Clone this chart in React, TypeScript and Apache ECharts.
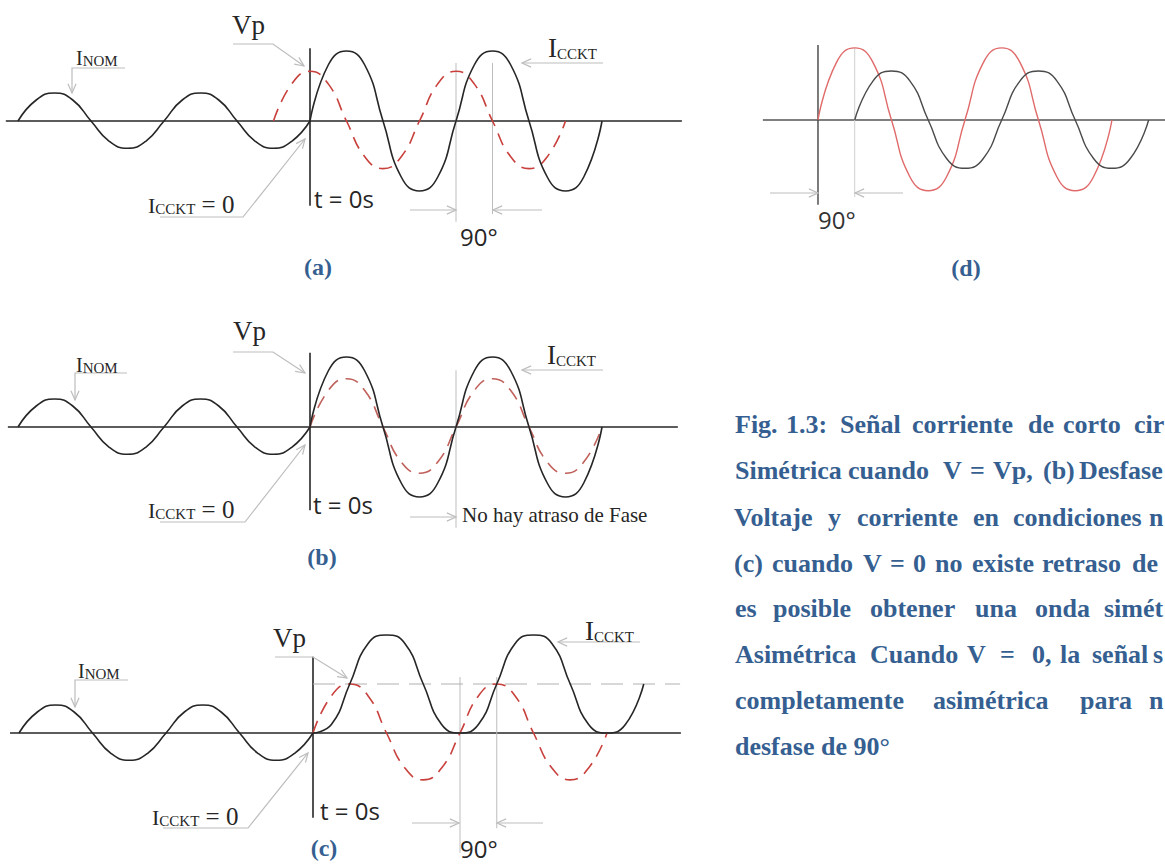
import React, { useEffect, useRef } from "react";
import * as echarts from "echarts";

// ---------- phase samples (degrees, t = 0 s at 0°), every 45° ----------
const phInom = [-720, -675, -630, -585, -540, -495, -450, -405, -360, -315, -270, -225, -180, -135, -90, -45, 0];
const phFwd = [0, 45, 90, 135, 180, 225, 270, 315, 360, 405, 450, 495, 540, 585, 630, 675, 720];
const phLead = [-90, -45, 0, 45, 90, 135, 180, 225, 270, 315, 360, 405, 450, 495, 540, 585, 630];
const phAsym = [0, 45, 90, 135, 180, 225, 270, 315, 360, 405, 450, 495, 540, 585, 630, 675, 720, 765, 810];
const phLag = [90, 135, 180, 225, 270, 315, 360, 405, 450, 495, 540, 585, 630, 675, 720, 765, 810];

// ---------- amplitudes (1 = peak of the symmetric short-circuit current) ----------
// (a) symmetric when V = Vp
const inomA = [0, 0.3, 0.4, 0.3, 0, -0.29, -0.39, -0.29, 0, 0.3, 0.4, 0.3, 0, -0.29, -0.39, -0.29, 0];
const icktA = [0, 0.8, 1, 0.8, 0, -0.8, -1, -0.8, 0, 0.8, 1, 0.8, 0, -0.8, -1, -0.8, 0];
const vA = [0, 0.53, 0.71, 0.53, 0, -0.51, -0.68, -0.51, 0, 0.53, 0.71, 0.53, 0, -0.51, -0.68, -0.51, 0];
// (b) no phase lag
const inomB = [0, 0.3, 0.4, 0.3, 0, -0.29, -0.39, -0.29, 0, 0.3, 0.4, 0.3, 0, -0.29, -0.39, -0.29, 0];
const icktB = [0, 0.8, 1, 0.8, 0, -0.8, -1, -0.8, 0, 0.8, 1, 0.8, 0, -0.8, -1, -0.8, 0];
const vB = [0, 0.52, 0.69, 0.52, 0, -0.5, -0.66, -0.5, 0, 0.52, 0.69, 0.52, 0, -0.5, -0.66, -0.5, 0];
// (c) asymmetric when V = 0
const inomC = [0, 0.3, 0.4, 0.3, 0, -0.29, -0.39, -0.29, 0, 0.3, 0.4, 0.3, 0, -0.29, -0.39, -0.29, 0];
const icktC = [0, 0.12, 0.7, 1.28, 1.4, 1.28, 0.7, 0.12, 0, 0.12, 0.7, 1.28, 1.4, 1.28, 0.7, 0.12, 0, 0.12, 0.7];
const vC = [0, 0.53, 0.7, 0.53, 0, -0.5, -0.67, -0.5, 0, 0.53, 0.7, 0.53, 0, -0.5, -0.67, -0.5, 0];
// (d) voltage and current 90° apart
const vD = [0, 0.82, 1.03, 0.82, 0, -0.81, -1.01, -0.81, 0, 0.82, 1.03, 0.82, 0, -0.81, -1.01, -0.81, 0];
const iD = [0, 0.56, 0.7, 0.56, 0, -0.55, -0.69, -0.55, 0, 0.56, 0.7, 0.56, 0, -0.55, -0.69, -0.55, 0];

// ---------- reference lines (degrees, amplitude) ----------
const baseA = [[-750, 0], [917, 0]];
const tZeroA = [[0, 1.04], [0, -1.21]];
const mark1A = [[360, 0.83], [360, -1.44]];
const mark2A = [[450, 0.83], [450, -1.33]];
const baseB = [[-745, 0], [907, 0]];
const tZeroB = [[0, 1.06], [0, -1.19]];
const mark1B = [[360, 0.81], [360, -1.44]];
const baseC = [[-742, 0], [901, 0]];
const tZeroC = [[0, 1.09], [0, -1.21]];
const mark1C = [[360, 0.8], [360, -1.71]];
const mark2C = [[450, 0.8], [450, -1.36]];
const vpLevelC = [[0, 0.7], [899, 0.7]];
const baseD = [[-135, 0], [850, 0]];
const tZeroD = [[0, 1.07], [0, -1.21]];
const markD = [[90, 1.03], [90, -1.1]];

// ---------- caption (as visible, the page cuts it on the right) ----------
const captionWords = [
  ["Fig.", "1.3:", "Señal", "corriente", "de", "corto", "cir"],
  ["Simétrica", "cuando", "V", "=", "Vp,", "(b)", "Desfase"],
  ["Voltaje", "y", "corriente", "en", "condiciones", "n"],
  ["(c)", "cuando", "V", "=", "0", "no", "existe", "retraso", "de"],
  ["es", "posible", "obtener", "una", "onda", "simét"],
  ["Asimétrica", "Cuando", "V", "=", "0,", "la", "señal", "s"],
  ["completamente", "asimétrica", "para", "n"],
  ["desfase de 90°"],
];

// ---------- layout (pixels) ----------
const UNIT = 70;
const layout = [
  { t0: 310, k: 146 / 360, axisY: 121, xmin: -750, xmax: 917 },
  { t0: 310, k: 146 / 360, axisY: 427, xmin: -745, xmax: 907 },
  { t0: 313, k: 147 / 360, axisY: 733, xmin: -742, xmax: 901 },
  { t0: 818, k: 147 / 360, axisY: 120, xmin: -135, xmax: 850 },
];
const captionX = [
  [735, 786, 840, 912, 1028, 1063, 1134],
  [735, 848, 943, 970, 993, 1043, 1079],
  [734, 828, 857, 973, 1013, 1149],
  [734, 772, 863, 890, 913, 935, 972, 1042, 1132],
  [735, 773, 870, 975, 1035, 1104],
  [735, 870, 967, 1000, 1032, 1060, 1092, 1153],
  [735, 933, 1080, 1149],
  [735],
];
const captionBase = [433, 479, 526, 572, 617, 663, 709, 755];

const SERIF = '"Liberation Serif", "Times New Roman", serif';
const SANS = '"Open Sans", "Liberation Sans", sans-serif';
const INK = "#262626";
const RED = "#c8403c";
const GRAY = "#bdbdbd";
const BLUE = "#365f91";

const zip = (xs: number[], ys: number[]) => xs.map((x, i) => [x, ys[i]]);

function line(gi: number, data: number[][], color: string, width: number, opts: any = {}) {
  return {
    type: "line",
    xAxisIndex: gi,
    yAxisIndex: gi,
    data,
    symbol: "none",
    showSymbol: false,
    smooth: opts.smooth ? 0.5 : false,
    clip: false,
    silent: true,
    z: opts.z ?? 2,
    lineStyle: { color, width, type: opts.dash || "solid", cap: "butt", join: "round" },
  };
}

function txt(x: number, y: number, text: string, size: number, family: string, o: any = {}) {
  return {
    type: "text",
    x,
    y,
    silent: true,
    z: 10,
    style: {
      text,
      fontSize: size,
      fontFamily: family,
      fontWeight: o.weight || "normal",
      fill: o.fill || INK,
      align: o.align || "left",
      textAlign: o.align || "left",
      verticalAlign: "middle",
      textVerticalAlign: "middle",
    },
  };
}

function caps(x: number, y: number, parts: [string, number][]) {
  const rich: any = {};
  let text = "";
  parts.forEach(([t, s], i) => {
    rich["p" + i] = { fontSize: s, fontFamily: SERIF, fill: INK, verticalAlign: "bottom", lineHeight: s };
    text += `{p${i}|${t}}`;
  });
  return {
    type: "text",
    x,
    y,
    silent: true,
    z: 10,
    style: { text, rich, fill: INK, fontFamily: SERIF, verticalAlign: "middle", textVerticalAlign: "middle" },
  };
}

function arrow(pts: number[][], color = GRAY) {
  const n = pts.length;
  const [x2, y2] = pts[n - 1];
  const [x1, y1] = pts[n - 2];
  const ang = Math.atan2(y2 - y1, x2 - x1);
  const L = 10;
  const a = 0.42;
  const h1 = [x2 - L * Math.cos(ang - a), y2 - L * Math.sin(ang - a)];
  const h2 = [x2 - L * Math.cos(ang + a), y2 - L * Math.sin(ang + a)];
  return [
    { type: "polyline", silent: true, z: 9, shape: { points: pts }, style: { stroke: color, lineWidth: 1.2, fill: null } },
    { type: "polyline", silent: true, z: 9, shape: { points: [h1, [x2, y2], h2] }, style: { stroke: color, lineWidth: 1.2, fill: null } },
  ];
}

const INOM: [string, number][] = [["I", 20], ["NOM", 15]];
const ICC0: [string, number][] = [["I", 22], ["CCKT", 15], [" = 0", 25]];
const ICC: [string, number][] = [["I", 27], ["CCKT", 15]];
const label = (x: number, y: number, t: string) => txt(x, y, t, 24, SERIF, { fill: BLUE, weight: "bold", align: "center" });

export default function App() {
  const ref = useRef<HTMLDivElement>(null);
  useEffect(() => {
    if (!ref.current) return;
    const chart = echarts.init(ref.current, undefined, { renderer: "svg" });
    const DASH = [13, 8];
    const series = [
      // (a)
      line(0, baseA, INK, 1.6),
      line(0, tZeroA, INK, 1.6),
      line(0, mark1A, GRAY, 1),
      line(0, mark2A, GRAY, 1),
      line(0, zip(phLead, vA), RED, 1.6, { smooth: true, dash: DASH }),
      line(0, zip(phInom, inomA), INK, 1.6, { smooth: true, z: 3 }),
      line(0, zip(phFwd, icktA), INK, 1.6, { smooth: true, z: 3 }),
      // (b)
      line(1, baseB, INK, 1.6),
      line(1, tZeroB, INK, 1.6),
      line(1, mark1B, GRAY, 1),
      line(1, zip(phFwd, vB), "#c0605a", 1.6, { smooth: true, dash: DASH }),
      line(1, zip(phInom, inomB), INK, 1.6, { smooth: true, z: 3 }),
      line(1, zip(phFwd, icktB), INK, 1.6, { smooth: true, z: 3 }),
      // (c)
      line(2, baseC, INK, 1.6),
      line(2, tZeroC, INK, 1.6),
      line(2, mark1C, GRAY, 1),
      line(2, mark2C, GRAY, 1),
      line(2, vpLevelC, "#b0b0b0", 1, { dash: [22, 10] }),
      line(2, zip(phFwd, vC), RED, 1.6, { smooth: true, dash: DASH }),
      line(2, zip(phInom, inomC), INK, 1.6, { smooth: true, z: 3 }),
      line(2, zip(phAsym, icktC), INK, 1.6, { smooth: true, z: 3 }),
      // (d)
      line(3, baseD, "#555555", 1.4),
      line(3, tZeroD, "#444444", 1.4),
      line(3, markD, "#cfcfcf", 1),
      line(3, zip(phFwd, vD), "#e06a6a", 1.4, { smooth: true, z: 3 }),
      line(3, zip(phLag, iD), "#4a4a4a", 1.4, { smooth: true, z: 3 }),
    ];

    const graphics: any[] = [
      // (a)
      txt(232, 25, "Vp", 27, SERIF),
      ...arrow([[233, 44], [273, 44], [304, 66]]),
      caps(76, 58, INOM),
      ...arrow([[125, 68], [72, 68], [72, 93]]),
      caps(148, 204, ICC0),
      ...arrow([[160, 217], [243, 217], [305, 139]]),
      txt(314, 198, "t = 0s", 24, SANS),
      caps(548, 48, ICC),
      ...arrow([[603, 63], [522, 63]]),
      ...arrow([[410, 210], [456, 210]]),
      ...arrow([[542, 210], [493, 210]]),
      txt(460, 236, "90°", 24, SANS),
      label(318, 267, "(a)"),
      // (b)
      txt(233, 331, "Vp", 27, SERIF),
      ...arrow([[233, 352], [273, 352], [305, 373]]),
      caps(76, 365, INOM),
      ...arrow([[127, 373], [75, 373], [75, 400]]),
      caps(148, 509, ICC0),
      ...arrow([[160, 522], [245, 522], [305, 445]]),
      txt(313, 504, "t = 0s", 24, SANS),
      caps(547, 355, ICC),
      ...arrow([[603, 370], [522, 370]]),
      ...arrow([[410, 517], [456, 517]]),
      txt(462, 515, "No hay atraso de Fase", 21, SERIF),
      label(322, 557, "(b)"),
      // (c)
      txt(273, 638, "Vp", 27, SERIF),
      ...arrow([[275, 657], [313, 657], [347, 678]]),
      caps(78, 671, INOM),
      ...arrow([[128, 680], [75, 680], [75, 707]]),
      caps(152, 816, ICC0),
      ...arrow([[163, 828], [248, 828], [308, 753]]),
      txt(320, 810, "t = 0s", 24, SANS),
      caps(585, 631, ICC),
      ...arrow([[640, 642], [558, 642]]),
      ...arrow([[412, 823], [459, 823]]),
      ...arrow([[543, 823], [497, 823]]),
      txt(460, 848, "90°", 24, SANS),
      label(324, 848, "(c)"),
      // (d)
      ...arrow([[770, 193], [818, 193]]),
      ...arrow([[903, 193], [855, 193]]),
      txt(818, 219, "90°", 24, SANS, { fill: "#333" }),
      label(966, 268, "(d)"),
    ];

    captionWords.forEach((words, li) => {
      words.forEach((w, wi) => {
        graphics.push(txt(captionX[li][wi], captionBase[li] - 9, w, 26, SERIF, { fill: BLUE, weight: "bold" }));
      });
    });

    chart.setOption({
      animation: false,
      backgroundColor: "#ffffff",
      grid: layout.map((p) => ({
        left: p.t0 + p.xmin * p.k,
        top: p.axisY - 1.5 * UNIT,
        width: (p.xmax - p.xmin) * p.k,
        height: 3 * UNIT,
        containLabel: false,
      })),
      xAxis: layout.map((p, i) => ({ type: "value", gridIndex: i, min: p.xmin, max: p.xmax, show: false })),
      yAxis: layout.map((_, i) => ({ type: "value", gridIndex: i, min: -1.5, max: 1.5, show: false })),
      series,
      graphic: { elements: graphics },
    });
    return () => chart.dispose();
  }, []);
  return (
    <div
      ref={ref}
      style={{ position: "fixed", left: 0, top: 0, width: 1165, height: 864, background: "#fff" }}
    />
  );
}
